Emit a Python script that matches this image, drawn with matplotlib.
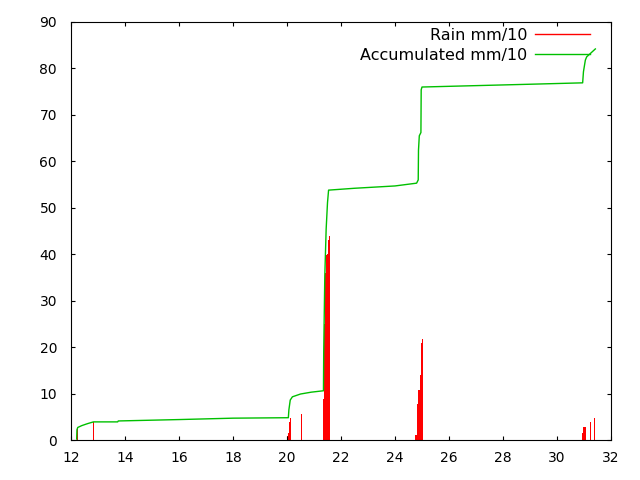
import matplotlib
matplotlib.use("Agg")
import matplotlib.pyplot as plt
from matplotlib.lines import Line2D

# rain readings (day of month, mm/10)
rain_day = [12.23, 12.83,
            20.02, 20.06, 20.10, 20.13, 20.53,
            21.34, 21.38, 21.42, 21.46, 21.50, 21.54, 21.58,
            24.78, 24.85, 24.89, 24.93, 24.97, 25.01,
            30.93, 30.96, 31.00, 31.03, 31.07, 31.23, 31.38]
rain_val = [2.5, 3.8,
            0.8, 1.6, 3.9, 4.7, 5.7,
            8.8, 25.0, 36.0, 39.8, 40.0, 43.0, 44.0,
            1.0, 7.8, 10.8, 14.0, 20.8, 21.8,
            0.9, 1.6, 2.9, 1.6, 2.9, 3.9, 4.7]

# accumulated rain (day of month, mm/10)
acc_day = [12.21, 12.22, 12.25, 12.40, 12.60, 12.83, 13.73, 13.75, 16.0, 18.0,
           20.05, 20.07, 20.12, 20.20, 20.50, 20.90, 21.35, 21.36, 21.40, 21.45,
           21.50, 21.54, 22.50, 24.00, 24.80, 24.86, 24.87, 24.90, 24.96, 24.97,
           25.00, 27.0, 29.0, 30.95, 30.98, 31.05, 31.10, 31.42]
acc_val = [0.2, 2.2, 2.7, 3.1, 3.5, 3.9, 3.9, 4.1, 4.4, 4.7,
           4.8, 6.5, 8.6, 9.3, 9.9, 10.3, 10.6, 19.0, 35.3, 45.4,
           51.1, 53.8, 54.2, 54.7, 55.3, 56.0, 62.4, 65.5, 66.2, 75.4,
           76.0, 76.3, 76.6, 76.9, 79.3, 81.8, 82.5, 84.2]

x_ticks = list(range(12, 33, 2))
y_ticks = list(range(0, 91, 10))

rain_color = '#ff0000'
acc_color = '#00c000'

plt.rcParams['font.family'] = ['DejaVu Sans']
fig = plt.figure(figsize=(6.4, 4.8), dpi=100)
ax = fig.add_axes([71 / 640, 40 / 480, 540 / 640, 418 / 480])

ax.bar(rain_day, rain_val, width=0.045, color=rain_color, linewidth=0)
ax.plot(acc_day, acc_val, color=acc_color, linewidth=1.0)

ax.set_xlim(12, 32)
ax.set_ylim(0, 90)
ax.set_xticks(x_ticks)
ax.set_yticks(y_ticks)
ax.tick_params(direction='in', length=3, width=0.8, labelsize=10,
               top=True, right=True)
ax.tick_params(axis='x', pad=8)
ax.tick_params(axis='y', pad=10)
for s in ax.spines.values():
    s.set_linewidth(0.8)

handles = [Line2D([], [], color=rain_color, linewidth=1.0),
           Line2D([], [], color=acc_color, linewidth=1.0)]
ax.legend(handles, ['Rain mm/10', 'Accumulated mm/10'], loc='upper right',
          bbox_to_anchor=((590 - 71) / 540, (440 - 28) / 418),
          frameon=False, markerfirst=False, fontsize=11.5,
          handlelength=3.44, handletextpad=0.5, borderpad=0,
          borderaxespad=0, labelspacing=0.3)

fig.savefig('out.png', dpi=100)
